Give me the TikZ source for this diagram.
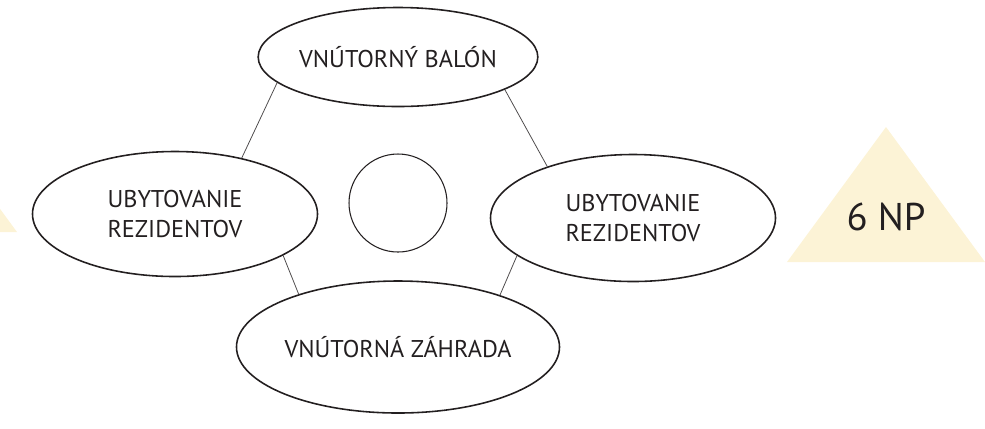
\documentclass[tikz,border=0pt]{standalone}
\usepackage{fontspec}
\setmainfont{PT Sans}
\usepackage{tikz}
\usetikzlibrary{shapes.geometric}
\definecolor{ink}{HTML}{231F20}
\definecolor{cream}{HTML}{FCF3D6}
\tikzset{
  zone/.style={ellipse, draw=ink, line width=0.9pt, inner sep=0pt, align=center,
    text=ink, font=\fontsize{13.8}{17.5}\selectfont},
  link/.style={draw=ink!80, line width=0.45pt},
  core/.style={circle, draw=ink, line width=0.6pt, minimum size=1.96cm, inner sep=0pt},
  floor/.style={fill=cream, draw=none}
}

\begin{document}
\begin{tikzpicture}
    \useasboundingbox (0,0) rectangle (19.7,-8.56);
    \clip (0,0) rectangle (19.7,-8.56);

    % floor marks
    \fill[floor] (-3.62,-4.64) -- (-1.64,-1.94) -- (0.34,-4.64) -- cycle;
    \fill[floor] (15.74,-5.24) -- (17.72,-2.54) -- (19.7,-5.24) -- cycle;
    \node[text=ink, font=\fontsize{22}{26}\selectfont] (np) at (17.72,-4.34) {6 NP};

    % zones
    \node[zone, minimum width=4.6cm, minimum height=1.98cm] (balon) at (7.96,-1.14) {VNÚTORNÝ BALÓN};
    \node[zone, minimum width=5.7cm, minimum height=2.5cm] (ubyL) at (3.50,-4.28) {UBYTOVANIE\\REZIDENTOV};
    \node[zone, minimum width=5.7cm, minimum height=2.54cm] (ubyR) at (12.66,-4.36) {UBYTOVANIE\\REZIDENTOV};
    \node[zone, minimum width=6.46cm, minimum height=2.64cm] (zahrada) at (7.96,-6.94) {VNÚTORNÁ ZÁHRADA};
    \node[core] (stred) at (7.96,-4.06) {};

    % links
    \draw[link] (balon.192) -- (ubyL.40);
    \draw[link] (balon.343) -- (ubyR.149);
    \draw[link] (ubyL.339) -- (zahrada.152);
    \draw[link] (ubyR.198) -- (zahrada.27);
\end{tikzpicture}
\end{document}
